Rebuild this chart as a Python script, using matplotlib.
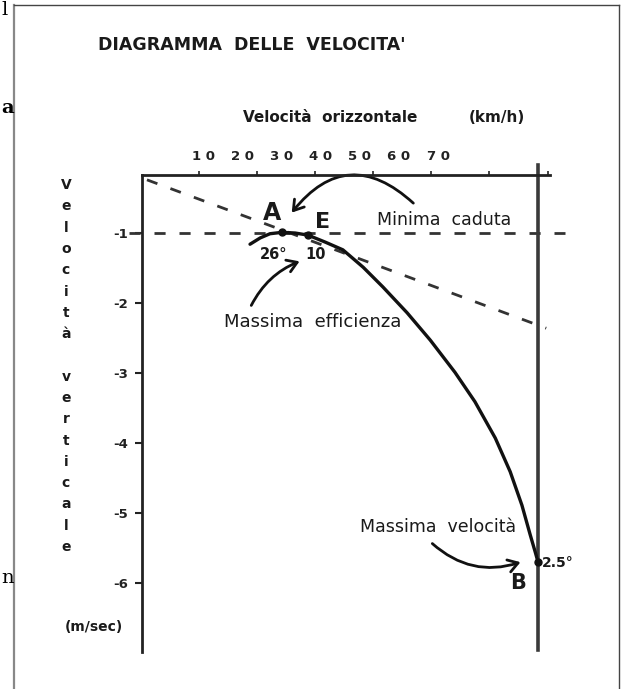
import matplotlib
matplotlib.use("Agg")
import matplotlib.pyplot as plt
from matplotlib.lines import Line2D
from matplotlib.patches import FancyArrowPatch

# polar curve: horizontal speed (km/h) vs vertical speed (m/s)
polar_speed = [22.0, 24.6, 27.1, 30.2, 33.5, 36.8, 41.2, 45.7, 50.9, 55.9, 62.1,
               68.0, 74.3, 79.4, 84.6, 88.4, 91.4, 93.5, 94.8, 95.5]
polar_sink = [-1.16, -1.07, -1.01, -0.99, -1.00, -1.03, -1.13, -1.24, -1.49, -1.77,
              -2.14, -2.53, -2.99, -3.41, -3.93, -4.41, -4.89, -5.31, -5.56, -5.70]

# marked points A (minimum sink), E (best glide), B (max speed)
point_speed = [30.2, 36.8, 95.5]
point_sink = [-0.99, -1.03, -5.70]

# glide tangent (dashed) and min-sink level
tangent_speed = [-4.3, 97.6]
tangent_sink = [-0.24, -2.36]
min_sink = -1.0
vmax_line = 95.5

x_tick_values = [10, 20, 30, 40, 50, 60, 70]
x_tick_marks = [9.0, 23.8, 38.6, 53.4, 68.2, 83.0, 98.1]
y_tick_values = [-1, -2, -3, -4, -5, -6]

W, H = 623, 689
fig = plt.figure(figsize=(W / 100, H / 100), dpi=100)


def fx(px):
    return px / W


def fy(py):
    return 1 - py / H


ax = fig.add_axes([fx(142), fy(652), fx(550) - fx(142), fy(175) - fy(652)])
ax.set_xlim(-5.57, 98.56)
ax.set_ylim(-6.986, -0.171)

ax.spines['right'].set_visible(False)
ax.spines['bottom'].set_visible(False)
ax.spines['left'].set_linewidth(2.0)
ax.spines['top'].set_linewidth(2.0)
ax.spines['left'].set_color('#222222')
ax.spines['top'].set_color('#222222')

ax.xaxis.tick_top()
ax.set_xticks(x_tick_values)
ax.set_xticklabels([' '.join(str(v)) for v in x_tick_values], fontsize=9.5,
                   fontweight='bold', color='#222222')
ax.set_xticks(x_tick_marks, minor=True)
ax.tick_params(axis='x', which='major', length=0, pad=9)
ax.tick_params(axis='x', which='minor', length=3, width=1.2, direction='out', color='#222222')

ax.set_yticks(y_tick_values)
ax.set_yticklabels([str(v) for v in y_tick_values], fontsize=9.5, fontweight='bold', color='#222222')
ax.tick_params(axis='y', length=5, width=1.5, direction='out', pad=5, color='#222222')

# dashed reference lines
ax.plot([-9, 102.5], [min_sink, min_sink], ls=(0, (4, 5)), lw=2.0, color='#333333', clip_on=False)
ax.plot(tangent_speed, tangent_sink, ls=(0, (4, 5)), lw=2.0, color='#333333', clip_on=False)

# max speed vertical line
ax.plot([vmax_line, vmax_line], [-0.03, -6.96], lw=2.6, color='#3a3a3a', clip_on=False)

# polar curve
ax.plot(polar_speed, polar_sink, lw=2.4, color='#111111', solid_capstyle='round')
ax.plot(point_speed, point_sink, 'o', ms=5, color='#111111')

txt = dict(color='#1a1a1a', ha='center', va='center')
ax.text(27.6, -0.71, 'A', fontsize=17, fontweight='bold', **txt)
ax.text(40.4, -0.84, 'E', fontsize=16, fontweight='bold', **txt)
ax.text(90.4, -6.0, 'B', fontsize=15, fontweight='bold', **txt)
ax.text(71.6, -0.81, 'Minima  caduta', fontsize=12.5, **txt)
ax.text(27.9, -1.31, '26°', fontsize=10.5, fontweight='bold', **txt)
ax.text(38.6, -1.31, '10', fontsize=10.5, fontweight='bold', **txt)
ax.text(37.9, -2.27, 'Massima  efficienza', fontsize=13, **txt)
ax.text(70.0, -5.20, 'Massima  velocità', fontsize=12.5, **txt)
ax.text(96.6, -5.71, '2.5°', fontsize=10, fontweight='bold', color='#1a1a1a', ha='left', va='center')

arrow_kw = dict(arrowstyle='->,head_length=0.7,head_width=0.45', lw=2.0, color='#111111',
                mutation_scale=10, clip_on=False)
ax.add_patch(FancyArrowPatch((64.2, -0.60), (32.2, -0.74), connectionstyle='arc3,rad=0.55', **arrow_kw))
ax.add_patch(FancyArrowPatch((22.0, -2.07), (35.3, -1.39), connectionstyle='arc3,rad=-0.2', **arrow_kw))
ax.add_patch(FancyArrowPatch((68.0, -5.41), (91.7, -5.69), connectionstyle='arc3,rad=0.3', **arrow_kw))

# titles outside the axes
fig.text(fx(252), fy(45), "DIAGRAMMA  DELLE  VELOCITA'", fontsize=12.5, fontweight='bold',
         color='#1a1a1a', ha='center', va='center')
fig.text(fx(330), fy(117), 'Velocità  orizzontale', fontsize=11, fontweight='bold',
         color='#1a1a1a', ha='center', va='center')
fig.text(fx(497), fy(117), '(km/h)', fontsize=11, fontweight='bold',
         color='#1a1a1a', ha='center', va='center')

ylabel = 'Velocità verticale'
for i, ch in enumerate(ylabel):
    fig.text(fx(66), fy(185 + i * 21.3), ch, fontsize=10, fontweight='bold',
             color='#1a1a1a', ha='center', va='center')
fig.text(fx(94), fy(627), '(m/sec)', fontsize=10, fontweight='bold',
         color='#1a1a1a', ha='center', va='center')

# page frame and stray letters from the scanned page
fig.add_artist(Line2D([fx(14), fx(14)], [fy(5), fy(689)], lw=1.6, color='#888888'))
fig.add_artist(Line2D([fx(14), fx(619)], [fy(5), fy(5)], lw=1.0, color='#444444'))
fig.add_artist(Line2D([fx(619), fx(619)], [fy(5), fy(689)], lw=1.0, color='#444444'))
fig.text(fx(1), fy(10), 'l', fontsize=14, family='DejaVu Serif', ha='left', va='center')
fig.text(fx(1), fy(108), 'a', fontsize=14, family='DejaVu Serif', fontweight='bold', ha='left', va='center')
fig.text(fx(1), fy(578), 'n', fontsize=14, family='DejaVu Serif', ha='left', va='center')

fig.savefig('out.png', dpi=100)
